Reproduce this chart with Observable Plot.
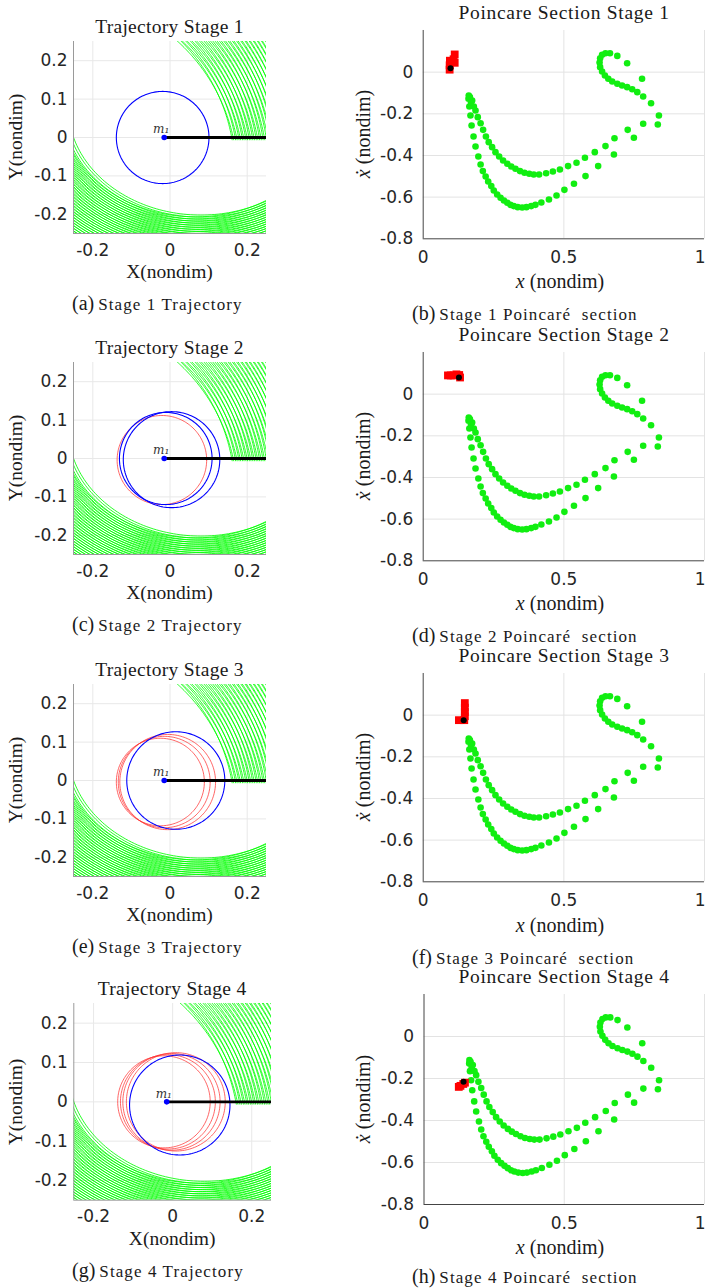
<!DOCTYPE html>
<html><head><meta charset="utf-8">
<script src="https://cdn.jsdelivr.net/npm/d3@7"></script>
<script src="https://cdn.jsdelivr.net/npm/@observablehq/plot@0.6"></script>
<style>
body{margin:0;background:#fff;}
#page{position:relative;width:705px;height:1288px;overflow:hidden;background:#fff;}
.lbl{position:absolute;white-space:pre;font-family:"Liberation Serif",serif;color:#1a1a1a;line-height:1;}
</style></head><body><div id="page"></div>
<script>
// ---------------- data ----------------
const stageNames = ["1","2","3","4"];
const leftLetters = ["(a)","(c)","(e)","(g)"];
const rightLetters = ["(b)","(d)","(f)","(h)"];
const leftXTicks = [-0.2, 0, 0.2];
const leftYTicks = [-0.2, -0.1, 0, 0.1, 0.2];
const rightXTicks = [0, 0.5, 1];
const rightYTicks = [0, -0.2, -0.4, -0.6, -0.8];

// mass m1 position
const m1X = -0.015, m1Y = 0;
const blackLineEnd = 0.25;

// circles per stage [cx, cy, r]
const blueCircles = [
  [[-0.019, 0.0, 0.120]],
  [[-0.011, 0.0, 0.120], [0.004, -0.003, 0.125]],
  [[0.015, 0.0, 0.127]],
  [[0.018, -0.008, 0.127]]
];
const redCircles = [
  [],
  [[-0.021, -0.004, 0.116]],
  [[-0.025, -0.004, 0.114], [-0.015, -0.004, 0.119], [-0.006, -0.004, 0.124]],
  [[-0.022, 0.0, 0.117], [-0.012, 0.0, 0.120], [-0.003, 0.0, 0.123], [0.008, 0.0, 0.125]]
];

// upper-right family of trajectory arcs: two interleaved sets (centre A / centre B, radii)
const topCentreA = [-0.314, -0.088];
const topCentreB = [-0.300, -0.100];
const topArcRA = [0.482,0.4908,0.4996,0.5084,0.5172,0.526,0.5348,0.5436,0.5524,0.5612,0.57,0.5788,0.5876,0.5964,0.6052,0.614,0.6228,0.6316,0.6404,0.6492,0.658,0.6668,0.6756];
const topArcRB = [0.4744,0.4832,0.492,0.5008,0.5096,0.5184,0.5272,0.536,0.5448,0.5536,0.5624,0.5712,0.58,0.5888,0.5976,0.6064,0.6152,0.624,0.6328,0.6416,0.6504,0.6592,0.668];
const topArcEndY = -0.006;

// lower family of trajectory arcs: two interleaved sets (ellipse centre, scale of base radii)
const bottomCentreA = [0.080, 0.080];
const bottomCentreB = [0.066, 0.078];
const bottomRx = 0.344, bottomRy = 0.282;
const bottomArcSA = [1.000,1.019,1.038,1.057,1.076,1.095,1.114,1.133,1.152,1.171,1.190,1.209,1.228,1.247,1.266,1.285,1.304,1.323,1.342,1.361,1.380,1.399,1.418,1.437,1.456,1.475,1.494,1.513];
const bottomArcSB = [1.0095,1.0285,1.0475,1.0665,1.0855,1.1045,1.1235,1.1425,1.1615,1.1805,1.1995,1.2185,1.2375,1.2565,1.2755,1.2945,1.3135,1.3325,1.3515,1.3705,1.3895,1.4085,1.4275,1.4465,1.4655,1.4845,1.5035,1.5225];

// Poincare section points (same in every stage)
const poincareX = [
  0.690,0.725,0.778,0.664,0.648,0.636,0.629,0.627,0.629,0.636,0.646,0.658,0.672,0.690,0.707,0.725,0.743,0.761,0.782,0.810,
  0.838,0.834,
  0.782,0.727,0.680,0.648,0.610,0.575,0.545,0.515,0.486,0.461,0.437,0.412,0.393,0.377,0.360,0.344,0.328,0.313,0.299,0.284,0.270,0.257,0.245,0.233,0.223,0.213,0.204,0.194,0.186,0.180,0.174,
  0.749,0.678,0.622,0.577,0.536,0.502,0.474,0.447,0.420,0.399,0.384,0.367,0.352,0.336,0.322,0.310,0.299,0.287,0.275,0.263,0.251,0.242,0.231,0.222,0.212,0.204,0.196,0.186,0.179,0.172,0.168,0.164,0.161,0.162,
  0.166,0.170
];
const poincareY = [
  0.078,0.043,-0.032,0.091,0.091,0.083,0.067,0.046,0.024,0.003,-0.016,-0.032,-0.045,-0.056,-0.064,-0.072,-0.082,-0.096,-0.117,-0.149,
  -0.208,-0.251,
  -0.248,-0.277,-0.317,-0.355,-0.384,-0.411,-0.435,-0.451,-0.467,-0.477,-0.485,-0.491,-0.491,-0.488,-0.483,-0.475,-0.464,-0.453,-0.440,-0.424,-0.405,-0.384,-0.360,-0.336,-0.309,-0.277,-0.245,-0.216,-0.184,-0.165,-0.136,
  -0.315,-0.395,-0.451,-0.499,-0.536,-0.565,-0.592,-0.611,-0.626,-0.637,-0.643,-0.648,-0.650,-0.648,-0.643,-0.637,-0.627,-0.616,-0.603,-0.587,-0.568,-0.547,-0.525,-0.501,-0.475,-0.443,-0.405,-0.357,-0.309,-0.256,-0.208,-0.165,-0.128,-0.112,
  -0.120,-0.145
];

// red square markers and black current point per stage
const redSqX = [
  [0.094,0.094,0.095,0.108,0.112,0.112],
  [0.088,0.098,0.108,0.118,0.128,0.131],
  [0.148,0.148,0.148,0.148,0.146,0.127],
  [0.124,0.130,0.140,0.146]
];
const redSqY = [
  [0.012,0.033,0.055,0.062,0.085,0.045],
  [0.090,0.090,0.090,0.095,0.092,0.080],
  [0.058,0.036,0.015,-0.005,-0.024,-0.024],
  [-0.240,-0.235,-0.226,-0.220]
];
const blackDotX = [0.097, 0.127, 0.144, 0.141];
const blackDotY = [0.019, 0.080, -0.024, -0.215];

// ---------------- layout ----------------
const leftBoxes = [
  {x0:73, y0:40.7, w:193, h:192},
  {x0:73, y0:362.3, w:193, h:192},
  {x0:73, y0:684, w:193, h:192},
  {x0:73.3, y0:1003.3, w:197.7, h:196.7}
];
const rightBoxes = [
  {x0:422.7, y0:30, w:281.3, h:208.3},
  {x0:422.7, y0:351.6, w:281.3, h:208.3},
  {x0:422.7, y0:673.3, w:281.3, h:208.3},
  {x0:423.5, y0:994, w:280.5, h:210}
];
const page = document.getElementById("page");
const fmt = d => String(d);
const tickFont = {fontFamily:"DejaVu Sans", fontSize:"17px", color:"#262626", background:"transparent", overflow:"visible"};

// geometry helpers (shape drawing only)
function circlePts(c, id){
  const pts=[]; for(let k=0;k<=180;k++){const t=k/180*2*Math.PI; pts.push({x:c[0]+c[2]*Math.cos(t), y:c[1]+c[2]*Math.sin(t), id});} return pts;
}
const greenArcs = [];
function addTopArcs(list, centre, tag){
  list.forEach((R,i)=>{
    const [cx,cy]=centre;
    const t0=Math.asin((topArcEndY-cy)/R), t1=Math.asin(Math.min(1,(0.27-cy)/R));
    for(let k=0;k<=80;k++){const t=t0+(t1-t0)*k/80; greenArcs.push({x:cx+R*Math.cos(t), y:cy+R*Math.sin(t), id:tag+i});}
  });
}
function addBottomArcs(list, centre, tag){
  list.forEach((s,i)=>{
    const [cx,cy]=centre;
    for(let k=0;k<=120;k++){const t=Math.PI+Math.PI*k/120; greenArcs.push({x:cx+bottomRx*s*Math.cos(t), y:cy+bottomRy*s*Math.sin(t), id:tag+i});}
  });
}
addTopArcs(topArcRA, topCentreA, "ta");
addTopArcs(topArcRB, topCentreB, "tb");
addBottomArcs(bottomArcSA, bottomCentreA, "ba");
addBottomArcs(bottomArcSB, bottomCentreB, "bb");

function label(html, x, y, css){
  const d=document.createElement("div"); d.className="lbl"; d.innerHTML=html;
  d.style.left=x+"px"; d.style.top=y+"px";
  Object.assign(d.style, css||{});
  page.appendChild(d); return d;
}

function leftPanel(i){
  const b=leftBoxes[i]; const mT=10,mB=40,mR=8;
  const circ=[]; blueCircles[i].forEach((c,k)=>circ.push(...circlePts(c,"b"+k)));
  const rcirc=[]; redCircles[i].forEach((c,k)=>rcirc.push(...circlePts(c,"r"+k)));
  const svg=Plot.plot({
    width:b.x0+b.w+mR, height:b.h+mT+mB,
    marginLeft:b.x0, marginRight:mR, marginTop:mT, marginBottom:mB,
    x:{domain:[-0.25,0.25], ticks:leftXTicks, tickFormat:fmt, tickSize:0, tickPadding:10, label:null},
    y:{domain:[-0.25,0.25], ticks:leftYTicks, tickFormat:fmt, tickSize:0, tickPadding:6, label:null},
    style:tickFont,
    marks:[
      Plot.ruleX(leftXTicks,{stroke:"#e8e8e8"}),
      Plot.ruleY(leftYTicks,{stroke:"#e8e8e8"}),
      Plot.line(greenArcs,{x:"x",y:"y",z:"id",stroke:"#00ff00",strokeWidth:0.85,clip:true}),
      Plot.line(rcirc,{x:"x",y:"y",z:"id",stroke:"#ff3030",strokeWidth:0.75}),
      Plot.line(circ,{x:"x",y:"y",z:"id",stroke:"#0000ff",strokeWidth:1.1}),
      Plot.ruleY([m1Y],{x1:m1X,x2:blackLineEnd,stroke:"#000",strokeWidth:2.8}),
      Plot.dot([{x:m1X,y:m1Y}],{x:"x",y:"y",r:2.8,fill:"#0000ff"}),
      Plot.text([{x:m1X,y:m1Y}],{x:"x",y:"y",text:()=>"m\u2081",dx:-3,dy:-8,fontSize:12,fontStyle:"italic",fontFamily:"DejaVu Serif",fill:"#333"}),
      Plot.ruleX([-0.25],{stroke:"#9a9a9a"}),
      Plot.ruleY([-0.25],{stroke:"#9a9a9a"})
    ]
  });
  svg.style.position="absolute"; svg.style.left="0px"; svg.style.top=(b.y0-mT)+"px";
  page.appendChild(svg);
  const cx=b.x0+b.w/2;
  label("Trajectory Stage "+stageNames[i], cx, b.y0-14, {fontSize:"19.5px", transform:"translate(-50%,-50%)", letterSpacing:"0.3px"});
  label("X(nondim)", cx, b.y0+b.h+39, {fontSize:"19.5px", transform:"translate(-50%,-50%)"});
  label("Y(nondim)", 16, b.y0+b.h/2, {fontSize:"19.5px", transform:"translate(-50%,-50%) rotate(-90deg)"});
  label('<span style="font-size:20px">'+leftLetters[i]+'</span> <span style="font-size:17px;letter-spacing:1.1px">Stage '+stageNames[i]+' Trajectory</span>', 72, Math.min(b.y0+b.h+70, 1274), {transform:"translate(0,-50%)"});
}

function rightPanel(i){
  const b=rightBoxes[i]; const mT=10,mB=40; const left=340; const mR=705-(b.x0+b.w);
  const pts=poincareX.map((x,k)=>({x, y:poincareY[k]}));
  const sq=redSqX[i].map((x,k)=>({x, y:redSqY[i][k]}));
  const inner=rightXTicks.filter(d=>d<1), last=rightXTicks.filter(d=>d>=1);
  const svg=Plot.plot({
    width:705-left, height:b.h+mT+mB,
    marginLeft:b.x0-left, marginRight:mR, marginTop:mT, marginBottom:mB,
    x:{domain:[0,1], axis:null},
    y:{domain:[-0.8,0.2], ticks:rightYTicks, tickFormat:fmt, tickSize:0, tickPadding:10, label:null},
    style:tickFont,
    marks:[
      Plot.ruleX([0.5,1],{stroke:"#e3e3e3"}),
      Plot.ruleY([0,-0.2,-0.4,-0.6],{stroke:"#e3e3e3"}),
      Plot.ruleX([0],{stroke:"#444"}),
      Plot.ruleY([-0.8],{stroke:"#444"}),
      Plot.dot(pts,{x:"x",y:"y",r:3.3,fill:"#11ee11"}),
      Plot.dot(sq,{x:"x",y:"y",symbol:"square",r:4.4,fill:"#ff0000"}),
      Plot.dot([{x:blackDotX[i],y:blackDotY[i]}],{x:"x",y:"y",r:3,fill:"#000"}),
      Plot.text(inner,{x:d=>d,y:()=>-0.8,text:fmt,dy:19,fontSize:17,fill:"#262626"}),
      Plot.text(last,{x:d=>d,y:()=>-0.8,text:fmt,dy:19,dx:1,textAnchor:"end",fontSize:17,fill:"#262626"})
    ]
  });
  svg.style.position="absolute"; svg.style.left=left+"px"; svg.style.top=(b.y0-mT)+"px";
  page.appendChild(svg);
  label("Poincare Section Stage "+stageNames[i], 564, b.y0-17, {fontSize:"19.5px", transform:"translate(-50%,-50%)", letterSpacing:"0.7px"});
  label('<i>x</i> (nondim)', 560, b.y0+b.h+43, {fontSize:"20px", transform:"translate(-50%,-50%)"});
  label('<i>\u1E8B</i> (nondim)', 363, b.y0+b.h/2, {fontSize:"20px", transform:"translate(-50%,-50%) rotate(-90deg)"});
  label('<span style="font-size:20px">'+rightLetters[i]+'</span> <span style="font-size:17px;letter-spacing:1.1px">Stage '+stageNames[i]+' Poincar\u00e9  section</span>', 412, Math.min(b.y0+b.h+75, 1276), {transform:"translate(0,-50%)"});
}

for(let i=0;i<4;i++){ leftPanel(i); rightPanel(i); }
</script></body></html>
